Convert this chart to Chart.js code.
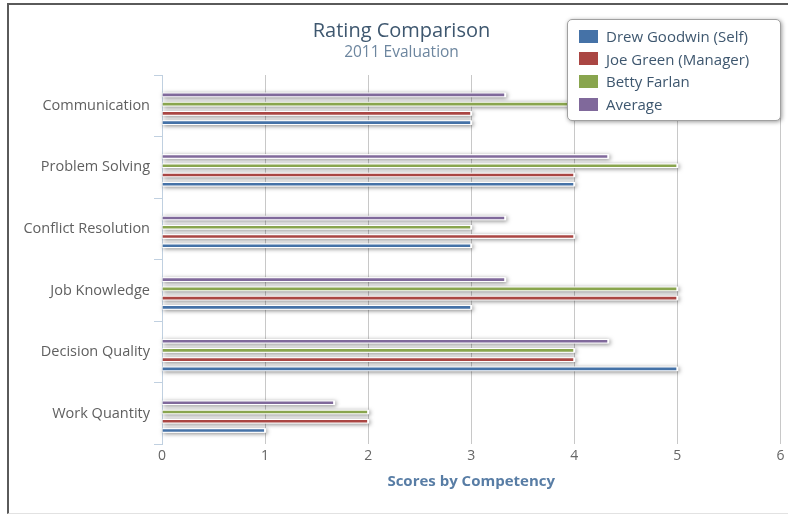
<!DOCTYPE html>
<html>
<head>
<meta charset="utf-8">
<title>Rating Comparison</title>
<script src="https://cdn.jsdelivr.net/npm/chart.js@4/dist/chart.umd.min.js"></script>
<style>
  html, body { margin: 0; padding: 0; background: #fff; }
  #wrap { position: relative; width: 788px; height: 514px; overflow: hidden; font-family: "Open Sans", sans-serif; }
  #chart { position: absolute; left: 0; top: 0; }
  #frame { position: absolute; left: 7px; top: 3px; width: 800px; height: 508px;
           border-left: 2px solid #5a5a5a; border-top: 2px solid #5a5a5a; border-bottom: 1px solid #e2e2e2;
           pointer-events: none; }
  #legend { position: absolute; left: 567px; top: 19px; width: 212px; height: 100px; background: #fff;
            border: 1px solid #a0a0a0; border-radius: 5px; box-shadow: 1px 1px 4px rgba(0,0,0,0.4); }
  .item { position: absolute; left: 11px; height: 20px; line-height: 20px; font-size: 15px;
          color: #3E576F; white-space: nowrap; }
  .sw { position: absolute; left: 0; top: 3.5px; width: 19px; height: 13px; }
  .lbl { position: absolute; left: 27px; top: 0; }
</style>
</head>
<body>
<div id="wrap">
  <canvas id="chart" width="788" height="514"></canvas>
  <div id="frame"></div>
  <div id="legend"></div>
</div>
<script>
// Competencies and the scores given by each rater
const categories = ['Communication', 'Problem Solving', 'Conflict Resolution', 'Job Knowledge', 'Decision Quality', 'Work Quantity'];
const drewScores = [3, 4, 3, 3, 5, 1];
const joeScores = [3, 4, 4, 5, 4, 2];
const bettyScores = [4, 5, 3, 5, 4, 2];
const averageScores = [3.33, 4.33, 3.33, 3.33, 4.33, 1.67];
const scoreTicks = [0, 1, 2, 3, 4, 5, 6];

const seriesNames = ['Drew Goodwin (Self)', 'Joe Green (Manager)', 'Betty Farlan', 'Average'];
const seriesColors = ['#4572A7', '#AA4643', '#89A54E', '#80699B'];
const seriesData = [drewScores, joeScores, bettyScores, averageScores];

const FONT = '"Open Sans", sans-serif';

// Average sits on top of each group, the self rating at the bottom
const order = [3, 2, 1, 0];
const datasets = order.map(i => ({
  label: seriesNames[i],
  data: seriesData[i],
  backgroundColor: seriesColors[i],
  borderColor: '#ffffff',
  borderWidth: 1,
  categoryPercentage: 0.6,
  barPercentage: 0.5
}));

// Grey drop shadow behind every bar, taken from the bar elements' own geometry
const barShadow = {
  id: 'barShadow',
  beforeDatasetsDraw(chart) {
    const ctx = chart.ctx;
    ctx.save();
    ctx.translate(0, 3);
    ctx.fillStyle = '#ffffff';
    ctx.shadowColor = 'rgba(0,0,0,0.5)';
    ctx.shadowBlur = 4;
    ctx.shadowOffsetX = 1;
    ctx.shadowOffsetY = 1;
    chart.data.datasets.forEach((ds, di) => {
      const meta = chart.getDatasetMeta(di);
      meta.data.forEach(bar => {
        const { x, y, base, height } = bar.getProps(['x', 'y', 'base', 'height'], true);
        ctx.fillRect(Math.min(base, x), y - height / 2, Math.abs(x - base) + 1, height);
      });
    });
    ctx.restore();
    // bars themselves share the same small downward shift
    ctx.save();
    ctx.translate(0, 3);
  },
  afterDatasetsDraw(chart) {
    chart.ctx.restore();
  }
};

const chart = new Chart(document.getElementById('chart'), {
  type: 'bar',
  data: { labels: categories, datasets },
  plugins: [barShadow],
  options: {
    indexAxis: 'y',
    responsive: false,
    devicePixelRatio: 1,
    animation: false,
    layout: { padding: { left: 21, right: 6, top: 19, bottom: 23 } },
    plugins: {
      legend: { display: false },
      tooltip: { enabled: false },
      title: {
        display: true,
        text: 'Rating Comparison',
        color: '#3E576F',
        font: { family: FONT, size: 20, weight: 'normal', lineHeight: 1.2 },
        padding: { top: 0, bottom: 0 }
      },
      subtitle: {
        display: true,
        text: '2011 Evaluation',
        color: '#6D869F',
        font: { family: FONT, size: 15.5, weight: 'normal', lineHeight: 1.2 },
        padding: { top: 0, bottom: 13.4 }
      }
    },
    scales: {
      x: {
        type: 'linear',
        min: scoreTicks[0],
        max: scoreTicks[scoreTicks.length - 1],
        afterBuildTicks(scale) { scale.ticks = scoreTicks.map(v => ({ value: v })); },
        grid: {
          drawTicks: false,
          color: ctx => (ctx.tick && ctx.tick.value === 0) ? 'rgba(0,0,0,0)' : '#C8C8C8',
          lineWidth: 1
        },
        border: { display: false },
        ticks: { color: '#666666', padding: 3.6, font: { family: FONT, size: 14 } },
        title: {
          display: true,
          text: 'Scores by Competency',
          color: '#587DA5',
          font: { family: FONT, size: 15, weight: 'bold', lineHeight: 1.2 },
          padding: { top: 4.6, bottom: 0 }
        }
      },
      y: {
        type: 'category',
        offset: true,
        afterFit(scale) { scale.width = 141; },
        grid: {
          offset: true,
          drawOnChartArea: false,
          drawTicks: true,
          tickLength: 8,
          color: '#C0D0E0'
        },
        border: { display: true, color: '#C0D0E0', width: 1 },
        ticks: { color: '#606060', padding: 4, font: { family: FONT, size: 14.5 } }
      }
    }
  }
});

// Floating legend box in the top right corner
const legendBox = document.getElementById('legend');
seriesNames.forEach((name, i) => {
  const item = document.createElement('div');
  item.className = 'item';
  item.style.top = (6 + i * 22.7) + 'px';
  const sw = document.createElement('span');
  sw.className = 'sw';
  sw.style.background = seriesColors[i];
  const lbl = document.createElement('span');
  lbl.className = 'lbl';
  lbl.textContent = name;
  item.appendChild(sw);
  item.appendChild(lbl);
  legendBox.appendChild(item);
});
</script>
</body>
</html>
